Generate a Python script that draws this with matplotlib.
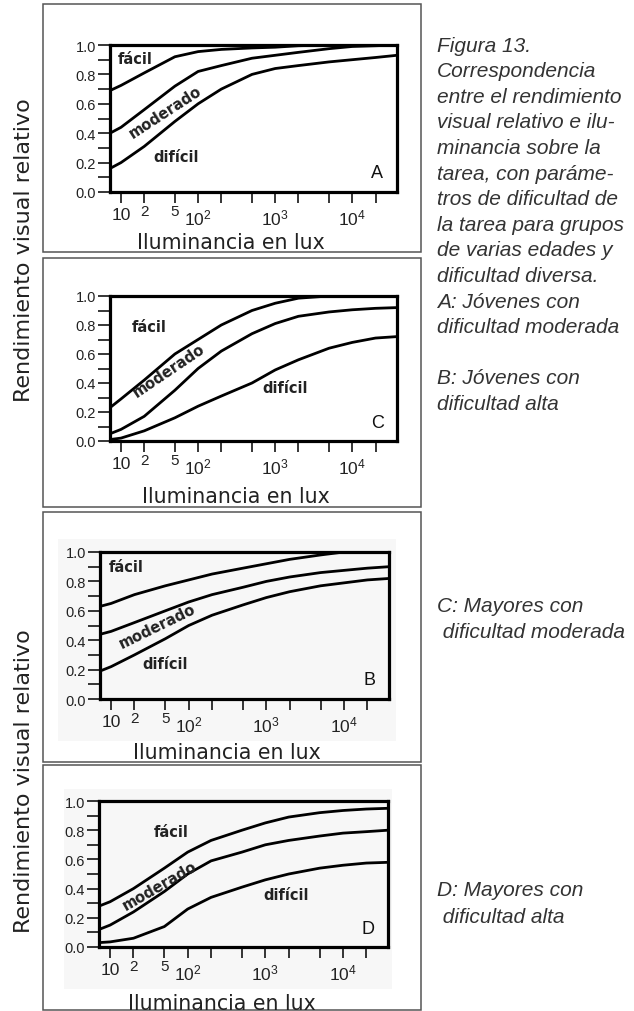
import matplotlib
matplotlib.use('Agg')
import matplotlib.pyplot as plt
from matplotlib.patches import Rectangle

################   DATA   ################
lux = [7.2, 10, 20, 50, 100, 200, 500, 1000, 2000, 5000, 1e4, 2e4, 3.8e4]

# panel A : jovenes, dificultad moderada
a_facil = [0.69, 0.725, 0.81, 0.92, 0.955, 0.97, 0.98, 0.985, 0.995, 1.0, 1.0, 1.0, 1.0]
a_moder = [0.40, 0.44, 0.56, 0.72, 0.82, 0.86, 0.91, 0.93, 0.95, 0.975, 0.99, 0.995, 1.0]
a_dific = [0.16, 0.20, 0.31, 0.48, 0.60, 0.70, 0.80, 0.84, 0.86, 0.885, 0.90, 0.915, 0.93]

# panel C (second box)
c_facil = [0.23, 0.29, 0.42, 0.60, 0.70, 0.80, 0.90, 0.95, 0.985, 1.0, 1.0, 1.0, 1.0]
c_moder = [0.05, 0.08, 0.17, 0.35, 0.50, 0.62, 0.74, 0.81, 0.86, 0.89, 0.905, 0.915, 0.92]
c_dific = [0.01, 0.02, 0.07, 0.16, 0.24, 0.31, 0.40, 0.49, 0.56, 0.64, 0.68, 0.71, 0.72]

# panel B (third box)
b_facil = [0.63, 0.65, 0.71, 0.77, 0.81, 0.85, 0.89, 0.92, 0.95, 0.98, 1.0, 1.0, 1.0]
b_moder = [0.44, 0.46, 0.52, 0.60, 0.66, 0.71, 0.76, 0.80, 0.83, 0.86, 0.875, 0.89, 0.90]
b_dific = [0.19, 0.22, 0.30, 0.41, 0.50, 0.57, 0.64, 0.69, 0.73, 0.77, 0.79, 0.81, 0.82]

# panel D (fourth box)
d_facil = [0.28, 0.31, 0.40, 0.54, 0.65, 0.73, 0.80, 0.85, 0.89, 0.92, 0.935, 0.945, 0.95]
d_moder = [0.12, 0.15, 0.24, 0.38, 0.50, 0.59, 0.65, 0.70, 0.73, 0.76, 0.78, 0.79, 0.80]
d_dific = [0.03, 0.035, 0.06, 0.14, 0.26, 0.34, 0.41, 0.46, 0.50, 0.54, 0.56, 0.575, 0.58]

xticks = [10, 20, 50, 100, 200, 500, 1000, 2000, 5000, 1e4, 2e4]
xticklabels = ['10', '2', '5', r'$\mathregular{10^2}$', '', '',
               r'$\mathregular{10^3}$', '', '', r'$\mathregular{10^4}$', '']
yticks = [0.0, 0.2, 0.4, 0.6, 0.8, 1.0]
yminor = [0.1, 0.3, 0.5, 0.7, 0.9]

caption = ['Figura 13.', 'Correspondencia', 'entre el rendimiento',
           'visual relativo e ilu-', 'minancia sobre la', 'tarea, con paráme-',
           'tros de dificultad de', 'la tarea para grupos', 'de varias edades y',
           'dificultad diversa.', 'A: Jóvenes con', 'dificultad moderada', '',
           'B: Jóvenes con', 'dificultad alta']

W, H = 634, 1012
fig = plt.figure(figsize=(W / 100, H / 100), dpi=100)


def fx(px):
    return px / W


def fy(py):
    return 1 - py / H


def panel(rect, box, curves, letter, lab_pos, xlab_x, xlab_y, scan=None):
    # outer grey frame of the panel
    bx0, by0, bx1, by1 = box
    if scan is not None:
        # faint grey of the scanned page behind the chart
        sx0, sy0, sx1, sy1 = scan
        fig.patches.append(Rectangle((fx(sx0), fy(sy1)), fx(sx1 - sx0), (sy1 - sy0) / H,
                                     transform=fig.transFigure, facecolor='#f7f7f7',
                                     edgecolor='none', zorder=-5))
    fig.patches.append(Rectangle((fx(bx0), fy(by1)), fx(bx1 - bx0), (by1 - by0) / H,
                                 transform=fig.transFigure, fill=False,
                                 edgecolor='#555555', lw=1.1, zorder=-4))
    x0, y0, x1, y1 = rect
    ax = fig.add_axes([fx(x0), fy(y1), fx(x1 - x0), (y1 - y0) / H])
    ax.patch.set_alpha(0)
    for c in curves:
        ax.plot(lux, c, color='black', lw=2.0, solid_capstyle='butt')
    ax.set_xscale('log')
    ax.set_xlim(7.2, 3.8e4)
    ax.set_ylim(0, 1)
    for s in ax.spines.values():
        s.set_linewidth(2.3)
    ax.set_xticks(xticks)
    ax.set_xticklabels(xticklabels)
    ax.xaxis.set_minor_locator(matplotlib.ticker.NullLocator())
    ax.set_yticks(yticks)
    ax.set_yticklabels(['%.1f' % v for v in yticks])
    ax.set_yticks(yminor, minor=True)
    ax.tick_params(axis='x', which='major', direction='out', length=8, width=1.1,
                   pad=3, labelsize=12.5, labelfontfamily='Liberation Sans',
                   labelcolor='#222222')
    ax.tick_params(axis='y', which='both', direction='out', length=9, width=1.1,
                   pad=1, labelsize=10.5, labelfontfamily='Liberation Sans',
                   labelcolor='#222222')
    for lab in ax.get_xticklabels():
        if lab.get_text() in ('2', '5'):
            lab.set_fontsize(11)
            lab.set_y(0.025)
    # curve names
    (fx_, fy_), (mx, my, ang), (dx, dy) = lab_pos
    ax.text(fx_, fy_, 'fácil', fontsize=10.5, fontweight='bold', ha='center', va='center', color='#222222')
    ax.text(mx, my, 'moderado', fontsize=10.5, fontweight='bold', ha='center', va='center',
            rotation=ang, rotation_mode='anchor', color='#222222')
    ax.text(dx, dy, 'difícil', fontsize=10.5, fontweight='bold', ha='center', va='center', color='#222222')
    ax.text(2.1e4, 0.13, letter, fontsize=13, ha='center', va='center',
            family='Liberation Sans', color='#111111')
    fig.text(fx(xlab_x), fy(xlab_y), 'Iluminancia en lux', fontsize=14.8,
             ha='center', va='center', color='#222222')
    return ax


panel((110, 46, 397, 193), (43, 5, 421, 253), [a_facil, a_moder, a_dific], 'A',
      ((15.5, 0.905), (38, 0.55, 33), (52, 0.24)), 231, 243)
panel((110, 297, 397, 442), (43, 259, 421, 508), [c_facil, c_moder, c_dific], 'C',
      ((23, 0.79), (42, 0.49, 34), (1350, 0.37)), 236, 497)
panel((100, 553, 389, 700), (43, 513, 421, 763), [b_facil, b_moder, b_dific], 'B',
      ((15.6, 0.90), (39, 0.50, 26), (50, 0.24)), 227, 753,
      scan=(58, 540, 396, 742))
panel((99, 802, 388, 948), (43, 766, 421, 1011), [d_facil, d_moder, d_dific], 'D',
      ((62, 0.79), (44, 0.42, 30), (1860, 0.36)), 222, 1004,
      scan=(64, 790, 392, 990))

# shared y labels
for yc in (250, 781):
    fig.text(fx(24), fy(yc), 'Rendimiento visual relativo', rotation=90, fontsize=16,
             ha='center', va='center', color='#222222')

# caption on the right
for i, line in enumerate(caption):
    fig.text(fx(437), fy(46 + 25.6 * i), line, fontsize=15, family='Liberation Sans',
             style='italic', ha='left', va='center', color='#333333')
for i, line in enumerate(['C: Mayores con', ' dificultad moderada']):
    fig.text(fx(437), fy(607 + 26 * i), line, fontsize=15, family='Liberation Sans',
             style='italic', ha='left', va='center', color='#333333')
for i, line in enumerate(['D: Mayores con', ' dificultad alta']):
    fig.text(fx(437), fy(891 + 27 * i), line, fontsize=15, family='Liberation Sans',
             style='italic', ha='left', va='center', color='#333333')

plt.savefig('out.png', dpi=100)
